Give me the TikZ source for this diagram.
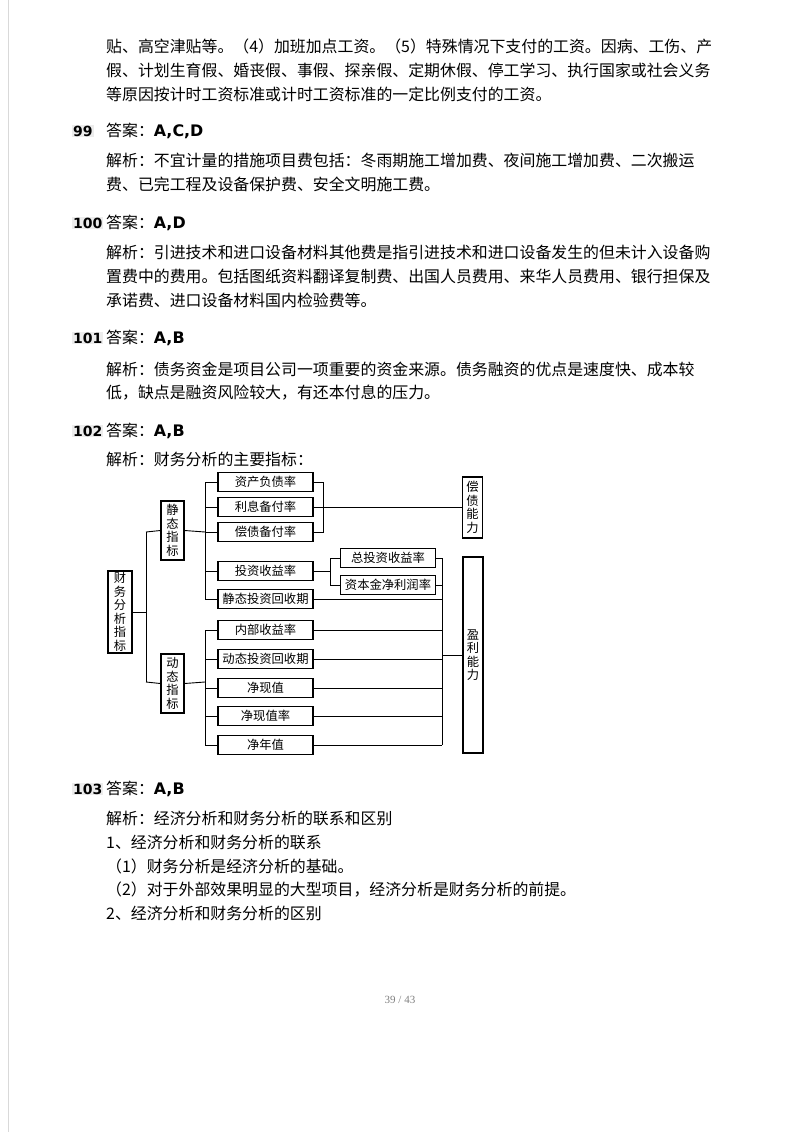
\documentclass[tikz,border=0pt]{standalone}
\usepackage{fontspec}
\setmainfont{Noto Sans CJK SC}
\newfontfamily\cjk{Noto Sans CJK SC}
\newfontfamily\numf{DejaVu Sans}
\newfontfamily\serf{Liberation Serif}
\begin{document}
\begin{tikzpicture}[x=1pt,y=-1pt,
  body/.style={anchor=west,inner sep=0,font=\fontsize{15.9}{18}\selectfont},
  bx/.style={draw,line width=1.2pt,minimum width=95pt,minimum height=19pt,inner sep=0,font=\fontsize{12.3}{13}\selectfont},
  vb/.style={draw,line width=1.2pt,inner sep=0,align=center,font=\fontsize{12.3}{13.5}\selectfont},
  ln/.style={line width=0.9pt}]
\useasboundingbox[fill=white] (0,0) rectangle (800,1132);
\draw[gray!30] (8,0) -- (8,1132);
% text
\node[body] (t1) at (106,46) {贴、高空津贴等。（4）加班加点工资。（5）特殊情况下支付的工资。因病、工伤、产};
\node[body] (t2) at (106,70) {假、计划生育假、婚丧假、事假、探亲假、定期休假、停工学习、执行国家或社会义务};
\node[body] (t3) at (106,94) {等原因按计时工资标准或计时工资标准的一定比例支付的工资。};
\newcommand{\qnum}[3]{\node[anchor=west,inner sep=1pt,fill=gray!15,font=\numf\bfseries\fontsize{14}{16}\selectfont] (#1) at (72,#2) {#3};}
\qnum{n99}{131}{99}
\node[body] (a99) at (106,131) {答案：{\numf\bfseries A,C,D}};
\node[body] (t4) at (106,160) {解析：不宜计量的措施项目费包括：冬雨期施工增加费、夜间施工增加费、二次搬运};
\node[body] (t5) at (106,184) {费、已完工程及设备保护费、安全文明施工费。};
\qnum{n100}{223}{100}
\node[body] (a100) at (106,223) {答案：{\numf\bfseries A,D}};
\node[body] (t6) at (106,252) {解析：引进技术和进口设备材料其他费是指引进技术和进口设备发生的但未计入设备购};
\node[body] (t7) at (106,276) {置费中的费用。包括图纸资料翻译复制费、出国人员费用、来华人员费用、银行担保及};
\node[body] (t8) at (106,300) {承诺费、进口设备材料国内检验费等。};
\qnum{n101}{338}{101}
\node[body] (a101) at (106,338) {答案：{\numf\bfseries A,B}};
\node[body] (t9) at (106,369) {解析：债务资金是项目公司一项重要的资金来源。债务融资的优点是速度快、成本较};
\node[body] (t10) at (106,393) {低，缺点是融资风险较大，有还本付息的压力。};
\qnum{n102}{431}{102}
\node[body] (a102) at (106,431) {答案：{\numf\bfseries A,B}};
\node[body] (t11) at (106,459) {解析：财务分析的主要指标：};
\qnum{n103}{789}{103}
\node[body] (a103) at (106,789) {答案：{\numf\bfseries A,B}};
\node[body] (t12) at (106,818) {解析：经济分析和财务分析的联系和区别};
\node[body] (t13) at (106,842) {1、经济分析和财务分析的联系};
\node[body] (t14) at (106,866) {（1）财务分析是经济分析的基础。};
\node[body] (t15) at (106,890) {（2）对于外部效果明显的大型项目，经济分析是财务分析的前提。};
\node[body] (t16) at (106,913) {2、经济分析和财务分析的区别};
\node[font=\serf\fontsize{11}{12}\selectfont,text=gray] (pg) at (400,1000) {39 / 43};
% diagram
\node[vb,minimum width=24pt,minimum height=82pt] (cw) at (120,612) {财\\务\\分\\析\\指\\标};
\node[vb,minimum width=23pt,minimum height=59pt] (jt) at (172.5,530.5) {静\\态\\指\\标};
\node[vb,minimum width=23pt,minimum height=59pt] (dt) at (172.5,683.5) {动\\态\\指\\标};
\node[vb,minimum width=20pt,minimum height=61pt] (cz) at (472.5,507.5) {偿\\债\\能\\力};
\node[vb,minimum width=20pt,minimum height=196pt] (yl) at (473,655) {盈\\利\\能\\力};
\node[bx] (b1) at (265.5,482) {资产负债率};
\node[bx] (b2) at (265.5,507) {利息备付率};
\node[bx] (b3) at (265.5,532) {偿债备付率};
\node[bx] (b4) at (265.5,571) {投资收益率};
\node[bx] (b5) at (265.5,599) {静态投资回收期};
\node[bx] (b6) at (265.5,630) {内部收益率};
\node[bx] (b7) at (265.5,659) {动态投资回收期};
\node[bx] (b8) at (265.5,688) {净现值};
\node[bx] (b9) at (265.5,716) {净现值率};
\node[bx] (b10) at (265.5,745) {净年值};
\node[bx] (c1) at (388,558) {总投资收益率};
\node[bx] (c2) at (388,585) {资本金净利润率};
\coordinate (s1) at (146,532); \coordinate (s2) at (146,682);
\coordinate (v1) at (205,482); \coordinate (v2) at (205,599);
\coordinate (w1) at (205,630); \coordinate (w2) at (205,745);
\coordinate (r1) at (323,482); \coordinate (r2) at (323,532);
\coordinate (p1) at (330,558); \coordinate (p2) at (330,585);
\coordinate (q1) at (442,558); \coordinate (q2) at (442,745);
\draw[ln] (cw.east) -- (146,612);
\draw[ln] (s1) -- (s2);
\draw[ln] (s1) -- (jt.west); \draw[ln] (s2) -- (dt.west);
\draw[ln] (jt.east) -- (205,532);
\draw[ln] (v1) -- (v2);
\draw[ln] (dt.east) -- (205,682);
\draw[ln] (w1) -- (w2);
\foreach \b in {b1,b2,b3,b4,b5} \draw[ln] (205,0 |- \b.west) -- (\b.west);
\foreach \b in {b6,b7,b8,b9,b10} \draw[ln] (205,0 |- \b.west) -- (\b.west);
\draw[ln] (b1.east) -- (r1) -- (r2) -- (b3.east);
\draw[ln] (b2.east) -- (cz.west |- b2.east);
\draw[ln] (b4.east) -- (330,571);
\draw[ln] (p1) -- (p2);
\draw[ln] (p1) -- (c1.west); \draw[ln] (p2) -- (c2.west);
\draw[ln] (q1) -- (q2);
\draw[ln] (c1.east) -- (q1); \draw[ln] (c2.east) -- (442,585);
\foreach \b in {b5,b6,b7,b8,b9,b10} \draw[ln] (\b.east) -- (442,0 |- \b.east);
\draw[ln] (442,655) -- (yl.west);
\end{tikzpicture}
\end{document}
